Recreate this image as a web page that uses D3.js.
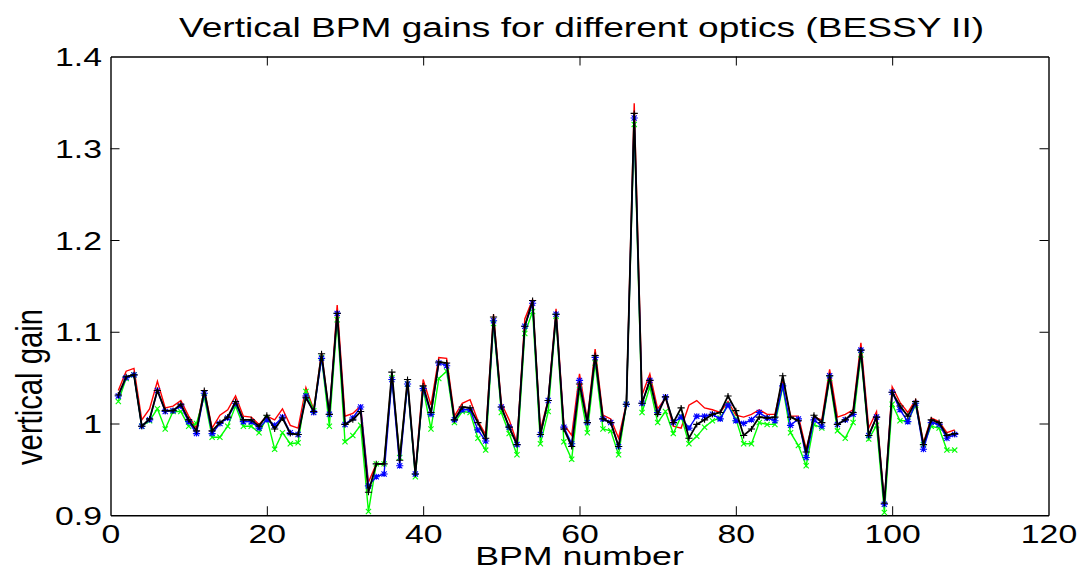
<!DOCTYPE html>
<html>
<head>
<meta charset="utf-8">
<script src="https://cdn.jsdelivr.net/npm/d3@7"></script>
<style>
  html, body { margin: 0; padding: 0; background: #fff; }
  svg { display: block; }
  text { font-family: "Liberation Sans", Arial, Helvetica, sans-serif; fill: #000; }
</style>
</head>
<body>
<svg id="chart" width="1082" height="569"></svg>
<script>
// BPM index 1..108
const bpm = d3.range(1, 109);

// Vertical gain per BPM for the four optics settings
const gainRed = [
  1.036, 1.057, 1.060, 1.004, 1.016, 1.046, 1.017, 1.019, 1.025, 1.008,
  0.995, 1.037, 0.995, 1.009, 1.015, 1.030, 1.008, 1.007, 0.999, 1.008,
  1.004, 1.016, 0.998, 0.995, 1.039, 1.015, 1.077, 1.010, 1.129, 1.008,
  1.011, 1.019, 0.936, 0.956, 0.956, 1.053, 0.963, 1.046, 0.947, 1.048,
  1.020, 1.072, 1.071, 1.008, 1.022, 1.026, 1.003, 0.988, 1.119, 1.022,
  1.004, 0.979, 1.114, 1.135, 0.993, 1.026, 1.125, 0.999, 0.987, 1.054,
  1.004, 1.081, 1.009, 1.005, 0.984, 1.022, 1.349, 1.031, 1.054, 1.016,
  1.028, 0.997, 0.995, 1.020, 1.025, 1.017, 1.015, 1.012, 1.024, 1.009,
  1.007, 1.010, 1.015, 1.010, 1.010, 1.048, 1.008, 1.008, 0.972, 1.007,
  1.004, 1.059, 1.007, 1.010, 1.015, 1.088, 0.995, 1.013, 0.914, 1.040,
  1.023, 1.012, 1.026, 0.979, 1.006, 1.002, 0.990, 0.993
];
const gainGreen = [
  1.024, 1.049, 1.053, 0.997, 1.003, 1.016, 0.994, 1.013, 1.013, 0.997,
  1.000, 1.029, 0.985, 0.985, 0.997, 1.019, 0.997, 0.997, 0.990, 1.006,
  0.972, 0.990, 0.978, 0.979, 1.035, 1.014, 1.072, 0.997, 1.113, 0.980,
  0.987, 0.998, 0.904, 0.956, 0.956, 1.050, 0.963, 1.043, 0.942, 1.038,
  0.994, 1.049, 1.057, 1.001, 1.013, 1.012, 0.984, 0.971, 1.109, 1.012,
  0.989, 0.966, 1.098, 1.122, 0.978, 1.013, 1.117, 0.980, 0.961, 1.037,
  0.990, 1.066, 0.994, 0.992, 0.966, 1.021, 1.326, 1.012, 1.040, 1.001,
  1.013, 0.989, 1.008, 0.978, 0.986, 0.996, 1.003, 1.006, 1.021, 1.005,
  0.978, 0.978, 1.001, 0.999, 0.999, 1.040, 0.990, 0.976, 0.954, 0.999,
  0.995, 1.049, 0.992, 0.984, 1.001, 1.075, 0.983, 0.998, 0.903, 1.021,
  1.003, 1.003, 1.020, 0.977, 0.997, 0.995, 0.971, 0.971
];
const gainBlue = [
  1.030, 1.050, 1.053, 0.997, 1.004, 1.036, 1.013, 1.014, 1.019, 1.002,
  0.989, 1.033, 0.989, 1.000, 1.006, 1.022, 1.002, 1.002, 0.995, 1.004,
  0.998, 1.007, 0.990, 0.988, 1.030, 1.012, 1.071, 1.010, 1.120, 0.999,
  1.006, 1.018, 0.932, 0.942, 0.945, 1.048, 0.954, 1.043, 0.945, 1.038,
  1.010, 1.066, 1.063, 1.004, 1.015, 1.015, 0.993, 0.981, 1.112, 1.018,
  0.996, 0.977, 1.106, 1.131, 0.988, 1.025, 1.119, 0.996, 0.978, 1.047,
  1.001, 1.072, 1.005, 1.001, 0.975, 1.021, 1.333, 1.022, 1.047, 1.012,
  1.029, 1.001, 1.007, 0.995, 1.008, 1.008, 1.010, 1.005, 1.020, 1.003,
  1.000, 1.004, 1.012, 1.006, 1.003, 1.041, 0.998, 1.005, 0.963, 1.004,
  0.997, 1.052, 0.999, 1.004, 1.010, 1.080, 0.987, 1.007, 0.912, 1.034,
  1.015, 1.002, 1.022, 0.972, 1.001, 0.999, 0.984, 0.988
];
const gainBlack = [
  1.031, 1.051, 1.053, 0.997, 1.005, 1.036, 1.014, 1.014, 1.021, 1.004,
  0.992, 1.036, 0.992, 1.001, 1.007, 1.024, 1.004, 1.004, 0.997, 1.009,
  0.994, 1.006, 0.989, 0.988, 1.028, 1.013, 1.076, 1.010, 1.120, 0.999,
  1.004, 1.013, 0.925, 0.956, 0.956, 1.056, 0.960, 1.048, 0.945, 1.041,
  1.012, 1.067, 1.066, 1.004, 1.018, 1.017, 1.001, 0.984, 1.116, 1.018,
  0.996, 0.977, 1.106, 1.134, 0.988, 1.025, 1.119, 0.994, 0.975, 1.043,
  1.001, 1.074, 1.005, 1.001, 0.975, 1.021, 1.338, 1.022, 1.047, 1.010,
  1.029, 1.001, 1.017, 0.984, 0.999, 1.004, 1.010, 1.012, 1.030, 1.014,
  0.987, 0.994, 1.007, 1.006, 1.007, 1.052, 1.007, 1.003, 0.969, 1.009,
  1.001, 1.052, 0.999, 1.004, 1.012, 1.080, 0.987, 1.007, 0.913, 1.034,
  1.019, 1.008, 1.024, 0.977, 1.004, 1.001, 0.987, 0.989
];

// Axis ticks and their labels
const xTicks = [0, 20, 40, 60, 80, 100, 120];
const xTickLabels = ["0", "20", "40", "60", "80", "100", "120"];
const yTicks = [0.9, 1.0, 1.1, 1.2, 1.3, 1.4];
const yTickLabels = ["0.9", "1", "1.1", "1.2", "1.3", "1.4"];

const titleText = "Vertical BPM gains for different optics (BESSY II)";
const xLabelText = "BPM number";
const yLabelText = "vertical gain";

// ---- layout ----
const W = 1082, H = 569;
const plot = { left: 110.5, right: 1048.5, top: 56.5, bottom: 515.25 };
const SX = 1.35;            // horizontal stretch applied to all text
const tickFont = 25, labelFont = 27.5;

const svg = d3.select("#chart");
svg.append("rect").attr("width", W).attr("height", H).attr("fill", "#fff");

const x = d3.scaleLinear().domain([0, 120]).range([plot.left, plot.right]);
const y = d3.scaleLinear().domain([0.9, 1.4]).range([plot.bottom, plot.top]);

// ---- axes (inward ticks, full box) ----
const tickLen = 9;
function styleAxis(g) {
  g.selectAll(".domain").attr("stroke", "#000").attr("stroke-width", 1.4);
  g.selectAll(".tick line").attr("stroke", "#000").attr("stroke-width", 1);
}
const axB = svg.append("g").attr("transform", `translate(0,${plot.bottom})`)
  .call(d3.axisBottom(x).tickValues(xTicks).tickSizeInner(-tickLen).tickSizeOuter(0).tickFormat((d, i) => xTickLabels[i]));
const axT = svg.append("g").attr("transform", `translate(0,${plot.top})`)
  .call(d3.axisTop(x).tickValues(xTicks).tickSizeInner(-tickLen).tickSizeOuter(0).tickFormat(""));
const axL = svg.append("g").attr("transform", `translate(${plot.left},0)`)
  .call(d3.axisLeft(y).tickValues(yTicks).tickSizeInner(-tickLen).tickSizeOuter(0).tickFormat((d, i) => yTickLabels[i]));
const axR = svg.append("g").attr("transform", `translate(${plot.right},0)`)
  .call(d3.axisRight(y).tickValues(yTicks).tickSizeInner(-tickLen).tickSizeOuter(0).tickFormat(""));
[axB, axT, axL, axR].forEach(styleAxis);
// drop the tick marks that would sit on the box edges
axB.selectAll(".tick").filter(d => d === 0 || d === 120).select("line").remove();
axT.selectAll(".tick").filter(d => d === 0 || d === 120).select("line").remove();
axL.selectAll(".tick").filter(d => d === 0.9 || d === 1.4).select("line").remove();
axR.selectAll(".tick").filter(d => d === 0.9 || d === 1.4).select("line").remove();

axB.selectAll(".tick text")
  .attr("font-size", tickFont).attr("font-family", null)
  .attr("fill", "#000").attr("y", 27.3).attr("dy", 0)
  .attr("transform", `scale(${SX},1)`);
axL.selectAll(".tick text")
  .attr("font-size", tickFont).attr("font-family", null)
  .attr("fill", "#000").attr("x", -8.5 / SX).attr("dy", "0.36em")
  .attr("transform", `scale(${SX},1)`);

// ---- series ----
const series = [
  { name: "red",   values: gainRed,   color: "#ff0000", width: 1.4, marker: null },
  { name: "green", values: gainGreen, color: "#00ff00", width: 1.4, marker: "x" },
  { name: "blue",  values: gainBlue,  color: "#0000ff", width: 1.4, marker: "star" },
  { name: "black", values: gainBlack, color: "#000000", width: 1.8, marker: "plus" }
];

const line = d3.line().x(d => x(d[0])).y(d => y(d[1]));

function markerPath(type, cx, cy) {
  const a = 3.6, b = 3.0, c = 2.6;
  if (type === "plus") return `M${cx - a},${cy}H${cx + a}M${cx},${cy - b}V${cy + b}`;
  if (type === "x") return `M${cx - c},${cy - c}L${cx + c},${cy + c}M${cx - c},${cy + c}L${cx + c},${cy - c}`;
  if (type === "star") return `M${cx - a},${cy}H${cx + a}M${cx},${cy - b}V${cy + b}` +
    `M${cx - c},${cy - c}L${cx + c},${cy + c}M${cx - c},${cy + c}L${cx + c},${cy - c}`;
  return "";
}

series.forEach(s => {
  const pts = bpm.map((b, i) => [b, s.values[i]]);
  const g = svg.append("g").attr("class", "series-" + s.name);
  g.append("path").attr("d", line(pts))
    .attr("fill", "none").attr("stroke", s.color)
    .attr("stroke-width", s.width).attr("stroke-linejoin", "miter");
  if (s.marker) {
    g.selectAll("path.m").data(pts).join("path").attr("class", "m")
      .attr("d", d => markerPath(s.marker, x(d[0]), y(d[1])))
      .attr("fill", "none").attr("stroke", s.color).attr("stroke-width", 1.1);
  }
});

// ---- title and axis labels ----
svg.append("text")
  .attr("transform", `translate(${(plot.left + plot.right) / 2 + 2},37) scale(${SX},1)`)
  .attr("text-anchor", "middle").attr("font-size", labelFont)
  .text(titleText);

svg.append("text")
  .attr("transform", `translate(${(plot.left + plot.right) / 2},564.5) scale(${SX},1)`)
  .attr("text-anchor", "middle").attr("font-size", 26.5)
  .text(xLabelText);

svg.append("text")
  .attr("transform", `translate(42,387) scale(${SX},1) rotate(-90)`)
  .attr("text-anchor", "middle").attr("font-size", labelFont)
  .attr("textLength", 156).attr("lengthAdjust", "spacingAndGlyphs")
  .text(yLabelText);
</script>
</body>
</html>
